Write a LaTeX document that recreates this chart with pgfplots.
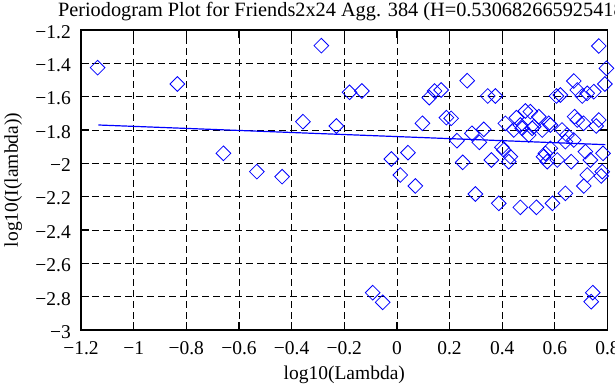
\documentclass[border=0pt]{standalone}
\usepackage{pgfplots}
\pgfplotsset{compat=1.18}
\usepackage{fontspec}
\setmainfont{Liberation Serif}
\pgfplotstableread{
x y
-1.137 -1.426
-0.834 -1.524
-0.659 -1.94
-0.532 -2.05
-0.436 -2.08
-0.357 -1.75
-0.287 -1.294
-0.230 -1.776
-0.180 -1.574
-0.133 -1.566
-0.092 -2.776
-0.054 -2.834
-0.021 -1.974
0.013 -2.07
0.042 -1.936
0.070 -2.136
0.097 -1.76
0.123 -1.606
0.143 -1.566
0.168 -1.56
0.188 -1.726
0.206 -1.73
0.228 -1.864
0.250 -1.994
0.267 -1.504
0.285 -1.82
0.298 -2.184
0.313 -1.874
0.330 -1.796
0.345 -1.596
0.359 -1.98
0.374 -1.596
0.387 -2.24
0.399 -1.904
0.406 -1.92
0.412 -1.76
0.425 -1.99
0.431 -1.96
0.444 -1.8
0.454 -1.726
0.469 -2.264
0.469 -1.77
0.476 -1.79
0.488 -1.686
0.501 -1.83
0.507 -1.69
0.514 -1.79
0.520 -1.78
0.530 -2.264
0.539 -1.72
0.552 -1.8
0.557 -1.96
0.564 -1.94
0.571 -1.99
0.577 -1.76
0.583 -1.91
0.583 -1.77
0.591 -2.24
0.606 -1.596
0.609 -1.98
0.621 -1.59
0.627 -1.8
0.640 -1.87
0.640 -2.18
0.646 -1.83
0.662 -1.99
0.672 -1.506
0.672 -1.86
0.675 -1.72
0.685 -1.56
0.685 -1.74
0.704 -1.596
0.709 -1.76
0.710 -2.136
0.716 -1.93
0.723 -1.58
0.723 -2.07
0.735 -1.98
0.738 -2.83
0.744 -2.776
0.748 -1.57
0.757 -1.776
0.767 -1.296
0.767 -1.74
0.776 -2.076
0.780 -2.05
0.783 -1.94
0.790 -1.524
0.796 -1.43
}\pdata
\pgfplotstableread{
x y
-1.134 -1.770
0.792 -1.888
}\fitline
\begin{document}
\fontsize{19.5}{23}\selectfont
\begin{tikzpicture}
\useasboundingbox (-81pt,-55pt) rectangle (534pt,330pt);
\begin{axis}[
  at={(0,0)}, anchor=south west,
  scale only axis, width=526.5pt, height=300pt,
  xmin=-1.2, xmax=0.8, ymin=-3, ymax=-1.2,
  xtick={-1.2,-1,-0.8,-0.6,-0.4,-0.2,0,0.2,0.4,0.6,0.8},
  xticklabels={−1.2,−1,−0.8,−0.6,−0.4,−0.2,0,0.2,0.4,0.6,0.8},
  ytick={-3,-2.8,-2.6,-2.4,-2.2,-2,-1.8,-1.6,-1.4,-1.2},
  yticklabels={−3,−2.8,−2.6,−2.4,−2.2,−2,−1.8,−1.6,−1.4,−1.2},
  grid=major,
  major grid style={black, line width=0.8pt, dash pattern=on 7pt off 4pt},
  axis line style={black, line width=1.6pt},
  tick align=inside, major tick length=8pt,
  tick style={black, line width=1.2pt},
  xticklabel style={anchor=base, inner sep=0pt, yshift=-25pt},
  yticklabel style={anchor=east, inner sep=0pt, xshift=-10pt, yshift=-2pt},
  every tick label/.append style={font=\fontsize{19.5}{23}\selectfont},
]
\addplot[only marks, mark=square, mark size=5.2pt, mark options={rotate=45, draw={rgb,255:red,0;green,0;blue,255}, line width=0.8pt, fill=none}] table[x=x,y=y] {\pdata};
\addplot[no marks, color={rgb,255:red,0;green,0;blue,255}, line width=1.2pt] table[x=x,y=y] {\fitline};
\end{axis}
\node[anchor=base, font=\fontsize{20.3}{24}\selectfont] at (263.25pt,313.5pt) {Periodogram Plot for Friends2x24 Agg. 384 (H=0.530682665925418)};
\node[anchor=base] at (263.25pt,-49pt) {log10(Lambda)};
\node[rotate=90, anchor=base] at (-63pt,150pt) {log10(I(lambda))};
\end{tikzpicture}
\end{document}
